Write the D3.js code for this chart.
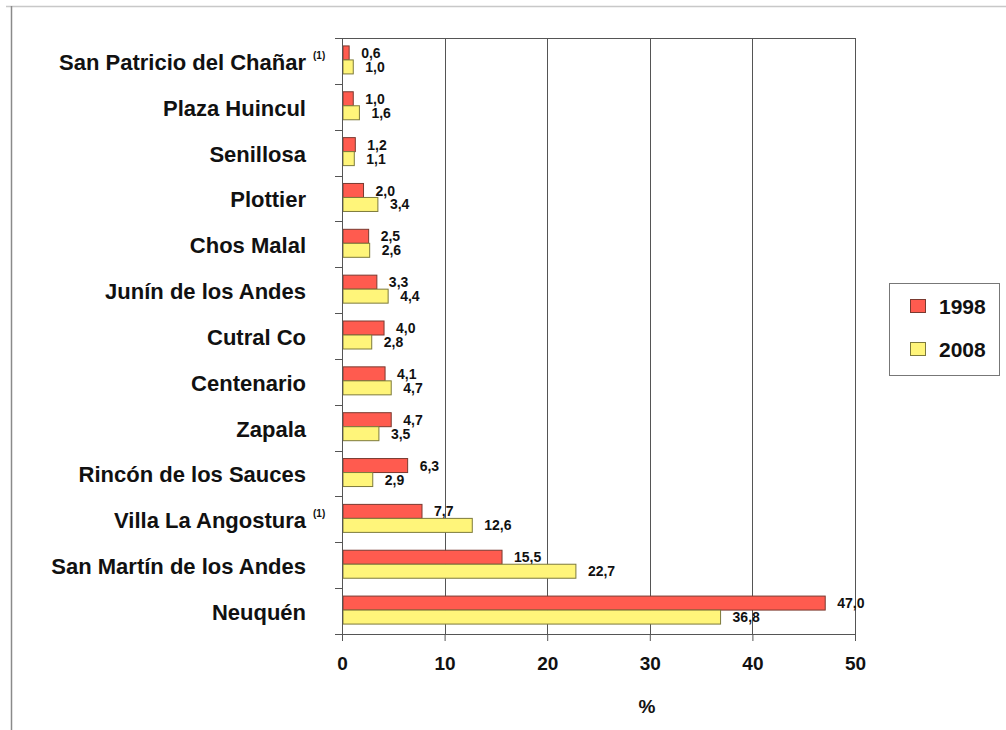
<!DOCTYPE html>
<html>
<head>
<meta charset="utf-8">
<script src="https://cdn.jsdelivr.net/npm/d3@7"></script>
<style>
  body { margin: 0; background: #fff; }
  text { font-family: "Liberation Sans", Arial, sans-serif; font-weight: bold; fill: #111; }
</style>
</head>
<body>
<svg id="chart" width="1006" height="730"></svg>
<script>
// data (top to bottom)
var cities = ["San Patricio del Chañar", "Plaza Huincul", "Senillosa", "Plottier", "Chos Malal",
  "Junín de los Andes", "Cutral Co", "Centenario", "Zapala", "Rincón de los Sauces",
  "Villa La Angostura", "San Martín de los Andes", "Neuquén"];
var notes = ["(1)", "", "", "", "", "", "", "", "", "", "(1)", "", ""];
var v1998 = [0.6, 1.0, 1.2, 2.0, 2.5, 3.3, 4.0, 4.1, 4.7, 6.3, 7.7, 15.5, 47.0];
var v2008 = [1.0, 1.6, 1.1, 3.4, 2.6, 4.4, 2.8, 4.7, 3.5, 2.9, 12.6, 22.7, 36.8];
var years = ["1998", "2008"];
var xTicks = [0, 10, 20, 30, 40, 50];

var svg = d3.select("#chart");
var colors = { "1998": "#ff5b4f", "2008": "#fff57a" };
var strokes = { "1998": "#7a3a30", "2008": "#7d7a3c" };

// outer frame (light lines like the slide border)
svg.append("line").attr("x1", 6).attr("x2", 1006).attr("y1", 6.5).attr("y2", 6.5)
  .style("stroke", "#c8c8c8").style("stroke-width", 1.5);
svg.append("line").attr("x1", 11.5).attr("x2", 11.5).attr("y1", 6).attr("y2", 730)
  .style("stroke", "#8a8a8a").style("stroke-width", 1.5);

var x = d3.scaleLinear().domain([0, 50]).range([342, 855]);
var y = d3.scaleBand().domain(cities).range([38, 634]);
var inner = d3.scaleBand().domain(years).range([0, 28]);
var fmt = function (v) { return d3.format(".1f")(v).replace(".", ","); };

var plotTop = y.range()[0], plotBottom = y.range()[1];

// gridlines
svg.append("g").selectAll("line").data(xTicks.slice(1)).enter().append("line")
  .attr("x1", function (d) { return Math.round(x(d)) + 0.5; })
  .attr("x2", function (d) { return Math.round(x(d)) + 0.5; })
  .attr("y1", plotTop).attr("y2", plotBottom)
  .style("stroke", "#555").style("stroke-width", 1);
svg.append("line").attr("x1", x(0)).attr("x2", x(50)).attr("y1", plotTop + 0.5).attr("y2", plotTop + 0.5)
  .style("stroke", "#555");

// bars
var groups = svg.append("g").selectAll("g").data(cities).enter().append("g")
  .attr("transform", function (d) { return "translate(0," + (y(d) + (y.bandwidth() - 28) / 2 - 1) + ")"; });

years.forEach(function (yr) {
  var vals = yr === "1998" ? v1998 : v2008;
  groups.append("rect")
    .attr("x", x(0) + 1)
    .attr("y", inner(yr))
    .attr("width", function (d, i) { return x(vals[i]) - x(0); })
    .attr("height", inner.bandwidth())
    .style("fill", colors[yr])
    .style("stroke", strokes[yr])
    .style("stroke-width", 1);
  groups.append("text")
    .attr("x", function (d, i) { return x(vals[i]) + 13; })
    .attr("y", inner(yr) + inner.bandwidth() / 2)
    .attr("dy", "0.36em")
    .style("font-size", "14px")
    .text(function (d, i) { return fmt(vals[i]); });
});

// x axis
var xAxis = d3.axisBottom(x).tickValues(xTicks).tickSize(7).tickPadding(16);
var gx = svg.append("g").attr("transform", "translate(0," + plotBottom + ")").call(xAxis);
gx.select(".domain").style("stroke", "#555").attr("d", "M" + (x(0) - 7) + ",0.5H" + x(50));
gx.selectAll(".tick line").style("stroke", "#555");
gx.selectAll(".tick text").style("font-size", "19px").attr("fill", "#111")
  .style("font-family", "Liberation Sans, Arial, sans-serif");

// y axis with ticks at category boundaries
var gy = svg.append("g");
gy.append("line").attr("x1", x(0) + 0.5).attr("x2", x(0) + 0.5).attr("y1", plotTop).attr("y2", plotBottom)
  .style("stroke", "#555");
gy.selectAll("line.tk").data(cities).enter().append("line").attr("class", "tk")
  .attr("x1", x(0) - 7).attr("x2", x(0))
  .attr("y1", function (d) { return Math.round(y(d)) + 0.5; })
  .attr("y2", function (d) { return Math.round(y(d)) + 0.5; })
  .style("stroke", "#555");

svg.append("g").selectAll("text").data(cities).enter().append("text")
  .attr("x", 306)
  .attr("y", function (d) { return y(d) + y.bandwidth() / 2 + 1; })
  .attr("dy", "0.36em")
  .attr("text-anchor", "end")
  .style("font-size", "22px")
  .text(function (d) { return d; });

svg.append("g").selectAll("text").data(notes.map(function (n, i) { return { n: n, c: cities[i] }; })
  .filter(function (d) { return d.n; })).enter().append("text")
  .attr("x", 313)
  .attr("y", function (d) { return y(d.c) + y.bandwidth() / 2 - 2; })
  .style("font-size", "10px")
  .text(function (d) { return d.n; });

// axis title
svg.append("text").attr("x", 647).attr("y", 713).attr("text-anchor", "middle")
  .style("font-size", "19px").text("%");

// legend
var lg = svg.append("g").attr("transform", "translate(889,283)");
lg.append("rect").attr("x", 0.5).attr("y", 0.5).attr("width", 110).attr("height", 92)
  .style("fill", "#fff").style("stroke", "#777").style("stroke-width", 1);
years.forEach(function (yr, i) {
  lg.append("rect").attr("x", 21.5).attr("y", 16.5 + i * 43).attr("width", 15).attr("height", 13)
    .style("fill", colors[yr]).style("stroke", strokes[yr]);
  lg.append("text").attr("x", 50).attr("y", 23 + i * 43).attr("dy", "0.36em")
    .style("font-size", "21px").text(yr);
});
</script>
</body>
</html>
